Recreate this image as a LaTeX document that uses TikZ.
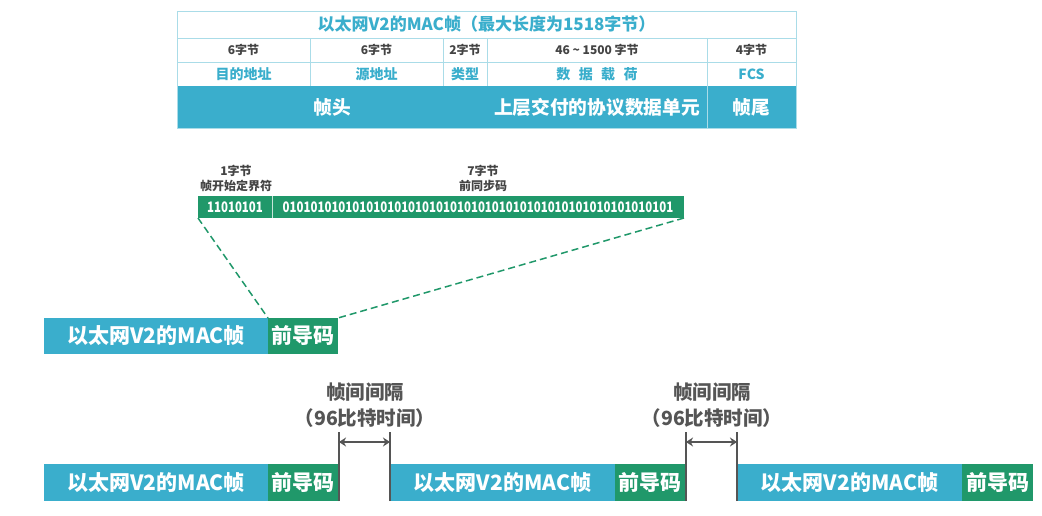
\documentclass[tikz,border=0pt]{standalone}
\usepackage{fontspec}
\setmainfont{Noto Sans CJK SC}
\usetikzlibrary{arrows.meta}
\definecolor{teal}{RGB}{58,174,204}
\definecolor{grn}{RGB}{32,152,106}
\definecolor{bord}{RGB}{170,220,232}
\definecolor{dk}{RGB}{68,68,68}
\definecolor{gr}{RGB}{85,85,85}
\newcommand{\fs}[1]{\fontsize{#1}{#1}\selectfont\bfseries}
\newcommand{\bits}[1]{\scalebox{0.79}[1]{#1}}
\tikzset{
  cell/.style={draw=bord, line width=0.8pt, fill=white, anchor=north west, inner sep=0pt, outer sep=0pt},
  sizet/.style={text=dk, font=\fs{12}},
  fieldt/.style={text=teal, font=\fs{14}},
  barcell/.style={fill=teal, anchor=north west, inner sep=0pt, outer sep=0pt, text=white, font=\fs{18.7}},
  bitbox/.style={fill=grn, anchor=north west, inner sep=0pt, outer sep=0pt, text=white, font=\fs{14.5}, minimum height=22},
  lbl/.style={text=dk, font=\fs{12}, align=center},
  macbox/.style={fill=teal, anchor=north west, inner sep=0pt, outer sep=0pt, text=white, font=\fs{21}},
  prebox/.style={fill=grn, anchor=north west, inner sep=0pt, outer sep=0pt, text=white, font=\fs{21}},
  dashln/.style={draw=grn, line width=1.5pt, dash pattern=on 7pt off 4pt},
  gline/.style={draw=gr, line width=1.4pt},
  garrow/.style={draw=gr, line width=2pt, {Stealth[length=7pt,width=9pt]}-{Stealth[length=7pt,width=9pt]}},
  gaptext/.style={text=gr, font=\fs{19.5}, align=center},
}
\begin{document}
\begin{tikzpicture}[x=1pt,y=-1pt]
\useasboundingbox[fill=white] (0,0) rectangle (1042,516);
% ---- table ----
\node[cell, minimum width=619, minimum height=27, text=teal, font=\fs{17}] (title) at (177,11) {以太网V2的MAC帧（最大长度为1518字节）};
\node[cell, minimum width=133, minimum height=24, sizet] (s1) at (177,38) {6字节};
\node[cell, minimum width=133, minimum height=24, sizet] (s2) at (310,38) {6字节};
\node[cell, minimum width=44, minimum height=24, sizet] (s3) at (443,38) {2字节};
\node[cell, minimum width=220, minimum height=24, sizet] (s4) at (487,38) {46 \textasciitilde{} 1500 字节};
\node[cell, minimum width=89, minimum height=24, sizet] (s5) at (707,38) {4字节};
\node[cell, minimum width=133, minimum height=24, fieldt] (f1) at (177,62) {目的地址};
\node[cell, minimum width=133, minimum height=24, fieldt] (f2) at (310,62) {源地址};
\node[cell, minimum width=44, minimum height=24, fieldt] (f3) at (443,62) {类型};
\node[cell, minimum width=220, minimum height=24, fieldt] (f4) at (487,62) {数\hspace{0.6em}据\hspace{0.6em}载\hspace{0.6em}荷};
\node[cell, minimum width=89, minimum height=24, fieldt] (f5) at (707,62) {FCS};
\node[barcell, minimum width=310, minimum height=42] (b1) at (177,86) {帧头};
\node[barcell, minimum width=220, minimum height=42] (b2) at (487,86) {上层交付的协议数据单元};
\node[barcell, minimum width=89, minimum height=42] (b3) at (707,86) {帧尾};
\draw[bord, line width=0.8pt] (b3.north west) -- (b3.south west);
\draw[bord, line width=0.8pt] (title.north west) rectangle (b3.south east);
% ---- preamble detail ----
\node[lbl] (l1) at (236,178) {1字节\\[3pt]帧开始定界符};
\node[lbl] (l2) at (483,178) {7字节\\[3pt]前同步码};
\node[bitbox, minimum width=74] (sfd) at (198,196) {\bits{11010101}};
\node[bitbox, minimum width=412] (sync) at (272,196) {\bits{01010101010101010101010101010101010101010101010101010101}};
\draw[white!75!grn, line width=0.8pt] (sync.north west) -- (sync.south west);
% ---- middle frame ----
\node[macbox, minimum width=224, minimum height=36] (mac0) at (44,318) {以太网V2的MAC帧};
\node[prebox, minimum width=70, minimum height=36] (pre0) at (268,318) {前导码};
\draw[dashln] (sfd.south west) -- (pre0.north west);
\draw[dashln] (sync.south east) -- (pre0.north east);
% ---- bottom frames ----
\node[macbox, minimum width=224, minimum height=37] (mac1) at (44,464) {以太网V2的MAC帧};
\node[prebox, minimum width=70, minimum height=37] (pre1) at (268,464) {前导码};
\node[macbox, minimum width=225, minimum height=37] (mac2) at (390,464) {以太网V2的MAC帧};
\node[prebox, minimum width=70, minimum height=37] (pre2) at (615,464) {前导码};
\node[macbox, minimum width=225, minimum height=37] (mac3) at (737,464) {以太网V2的MAC帧};
\node[prebox, minimum width=71, minimum height=37] (pre3) at (962,464) {前导码};
% gaps
\draw[gline] ([xshift=1pt]pre1.south east) -- ++(0,-69) coordinate (g1l);
\draw[gline] (mac2.south west) -- ++(0,-69) coordinate (g1r);
\draw[gline] ([xshift=1pt]pre2.south east) -- ++(0,-69) coordinate (g2l);
\draw[gline] (mac3.south west) -- ++(0,-69) coordinate (g2r);
\draw[garrow] ([yshift=-10pt]g1l) -- ([yshift=-10pt]g1r);
\draw[garrow] ([yshift=-10pt]g2l) -- ([yshift=-10pt]g2r);
\node[gaptext] (gt1) at (365,405) {帧间间隔\\[6pt]（96比特时间）};
\node[gaptext] (gt2) at (712,405) {帧间间隔\\[6pt]（96比特时间）};
\end{tikzpicture}
\end{document}
